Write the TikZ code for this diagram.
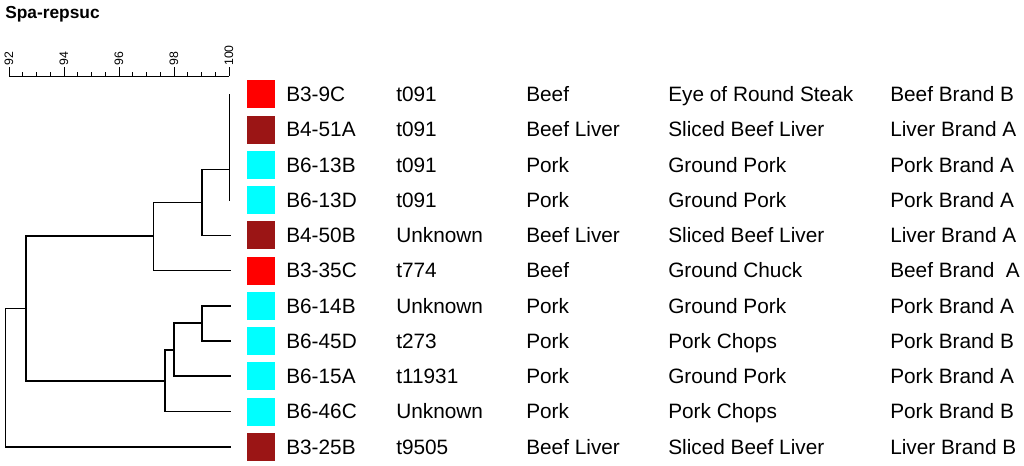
\documentclass[tikz,border=0pt]{standalone}
\usepackage{fontspec}
\setmainfont{Liberation Sans}
\definecolor{srcRed}{RGB}{255,0,0}
\definecolor{srcLiver}{RGB}{155,21,21}
\definecolor{srcCyan}{RGB}{0,255,255}
\tikzset{
  branch/.style={line width=1.2pt, line cap=rect},
  swatch/.style={minimum size=21pt, inner sep=0pt, outer sep=0pt},
  cell/.style={anchor=base west, inner sep=0pt, font=\fontsize{15.6}{18}\selectfont},
  scalelab/.style={anchor=west, rotate=90, inner sep=0pt, font=\fontsize{9.2}{10}\selectfont},
}
\begin{document}
\begin{tikzpicture}[x=0.75pt,y=0.75pt,yscale=-1,xscale=1]
	\useasboundingbox (0,0) rectangle (1024,465);
	\node [anchor=base west][inner sep=0pt, font=\fontsize{13}{15}\selectfont\bfseries] (title) at (5,18) {Spa-repsuc};
	% similarity scale
	\draw [line width=0.6pt] (9,76) -- (229,76);
	\foreach \k in {0,...,16} {
		\pgfmathsetmacro{\tl}{ifthenelse(mod(\k,4)==0,9,4.5)}
		\draw [line width=0.6pt] (9+13.75*\k,76) -- (9+13.75*\k,76-\tl);
	}
	\node [scalelab] (lab92) at (9,66) {92};
	\node [scalelab] (lab94) at (64,66) {94};
	\node [scalelab] (lab96) at (119,66) {96};
	\node [scalelab] (lab98) at (174,66) {98};
	\node [scalelab] (lab100) at (229,66) {100};
	% leaves
	\coordinate (l1) at (229.5,94.3);
	\coordinate (l2) at (229.5,129.5);
	\coordinate (l3) at (229.5,164.8);
	\coordinate (l4) at (229.5,200);
	\coordinate (l5) at (230,235.3);
	\coordinate (l6) at (230,270.5);
	\coordinate (l7) at (230,305.7);
	\coordinate (l8) at (230,341);
	\coordinate (l9) at (230,376.2);
	\coordinate (l10) at (230,411.5);
	\coordinate (l11) at (230,446.7);
	% joins
	\coordinate (a1) at (229.5,169.3);
	\coordinate (a2) at (201.7,202.3);
	\coordinate (a3) at (153.3,236);
	\coordinate (a4) at (26,308.3);
	\coordinate (b1) at (201.7,322.7);
	\coordinate (b2) at (174,350);
	\coordinate (b3) at (164.7,380.7);
	\coordinate (root) at (5.3,446.7);
	% dendrogram
	\draw [branch] (l1) -- (l4);
	\draw [branch] (a1) -| (a2) |- (l5);
	\draw [branch] (a2) -| (a3) |- (l6);
	\draw [branch] (l7) -| (b1) |- (l8);
	\draw [branch] (b1) -| (b2) |- (l9);
	\draw [branch] (b2) -| (b3) |- (l10);
	\draw [branch] (a3) -| (a4) |- (b3);
	\draw [branch] (a4) -| (root) |- (l11);
	% source swatches
	\node [swatch, fill=srcRed] (sq1) at (261,94.3) {};
	\node [swatch, fill=srcLiver] (sq2) at (261,129.5) {};
	\node [swatch, fill=srcCyan] (sq3) at (261,164.8) {};
	\node [swatch, fill=srcCyan] (sq4) at (261,200) {};
	\node [swatch, fill=srcLiver] (sq5) at (261,235.3) {};
	\node [swatch, fill=srcRed] (sq6) at (261,270.5) {};
	\node [swatch, fill=srcCyan] (sq7) at (261,305.7) {};
	\node [swatch, fill=srcCyan] (sq8) at (261,341) {};
	\node [swatch, fill=srcCyan] (sq9) at (261,376.2) {};
	\node [swatch, fill=srcCyan] (sq10) at (261,411.5) {};
	\node [swatch, fill=srcLiver] (sq11) at (261,446.7) {};
	% isolate
	\node [cell] (iso1) at (286,101.7) {B3-9C};
	\node [cell] (iso2) at (286,136.9) {B4-51A};
	\node [cell] (iso3) at (286,172.2) {B6-13B};
	\node [cell] (iso4) at (286,207.4) {B6-13D};
	\node [cell] (iso5) at (286,242.7) {B4-50B};
	\node [cell] (iso6) at (286,277.9) {B3-35C};
	\node [cell] (iso7) at (286,313.1) {B6-14B};
	\node [cell] (iso8) at (286,348.4) {B6-45D};
	\node [cell] (iso9) at (286,383.6) {B6-15A};
	\node [cell] (iso10) at (286,418.9) {B6-46C};
	\node [cell] (iso11) at (286,454.1) {B3-25B};
	% spa type
	\node [cell] (spa1) at (396,101.7) {t091};
	\node [cell] (spa2) at (396,136.9) {t091};
	\node [cell] (spa3) at (396,172.2) {t091};
	\node [cell] (spa4) at (396,207.4) {t091};
	\node [cell] (spa5) at (396,242.7) {Unknown};
	\node [cell] (spa6) at (396,277.9) {t774};
	\node [cell] (spa7) at (396,313.1) {Unknown};
	\node [cell] (spa8) at (396,348.4) {t273};
	\node [cell] (spa9) at (396,383.6) {t11931};
	\node [cell] (spa10) at (396,418.9) {Unknown};
	\node [cell] (spa11) at (396,454.1) {t9505};
	% meat
	\node [cell] (meat1) at (526,101.7) {Beef};
	\node [cell] (meat2) at (526,136.9) {Beef Liver};
	\node [cell] (meat3) at (526,172.2) {Pork};
	\node [cell] (meat4) at (526,207.4) {Pork};
	\node [cell] (meat5) at (526,242.7) {Beef Liver};
	\node [cell] (meat6) at (526,277.9) {Beef};
	\node [cell] (meat7) at (526,313.1) {Pork};
	\node [cell] (meat8) at (526,348.4) {Pork};
	\node [cell] (meat9) at (526,383.6) {Pork};
	\node [cell] (meat10) at (526,418.9) {Pork};
	\node [cell] (meat11) at (526,454.1) {Beef Liver};
	% cut
	\node [cell] (cut1) at (668,101.7) {Eye of Round Steak};
	\node [cell] (cut2) at (668,136.9) {Sliced Beef Liver};
	\node [cell] (cut3) at (668,172.2) {Ground Pork};
	\node [cell] (cut4) at (668,207.4) {Ground Pork};
	\node [cell] (cut5) at (668,242.7) {Sliced Beef Liver};
	\node [cell] (cut6) at (668,277.9) {Ground Chuck};
	\node [cell] (cut7) at (668,313.1) {Ground Pork};
	\node [cell] (cut8) at (668,348.4) {Pork Chops};
	\node [cell] (cut9) at (668,383.6) {Ground Pork};
	\node [cell] (cut10) at (668,418.9) {Pork Chops};
	\node [cell] (cut11) at (668,454.1) {Sliced Beef Liver};
	% brand
	\node [cell] (brand1) at (890,101.7) {Beef Brand B};
	\node [cell] (brand2) at (890,136.9) {Liver Brand A};
	\node [cell] (brand3) at (890,172.2) {Pork Brand A};
	\node [cell] (brand4) at (890,207.4) {Pork Brand A};
	\node [cell] (brand5) at (890,242.7) {Liver Brand A};
	\node [cell] (brand6) at (890,277.9) {Beef Brand\ \ A};
	\node [cell] (brand7) at (890,313.1) {Pork Brand A};
	\node [cell] (brand8) at (890,348.4) {Pork Brand B};
	\node [cell] (brand9) at (890,383.6) {Pork Brand A};
	\node [cell] (brand10) at (890,418.9) {Pork Brand B};
	\node [cell] (brand11) at (890,454.1) {Liver Brand B};
\end{tikzpicture}
\end{document}
